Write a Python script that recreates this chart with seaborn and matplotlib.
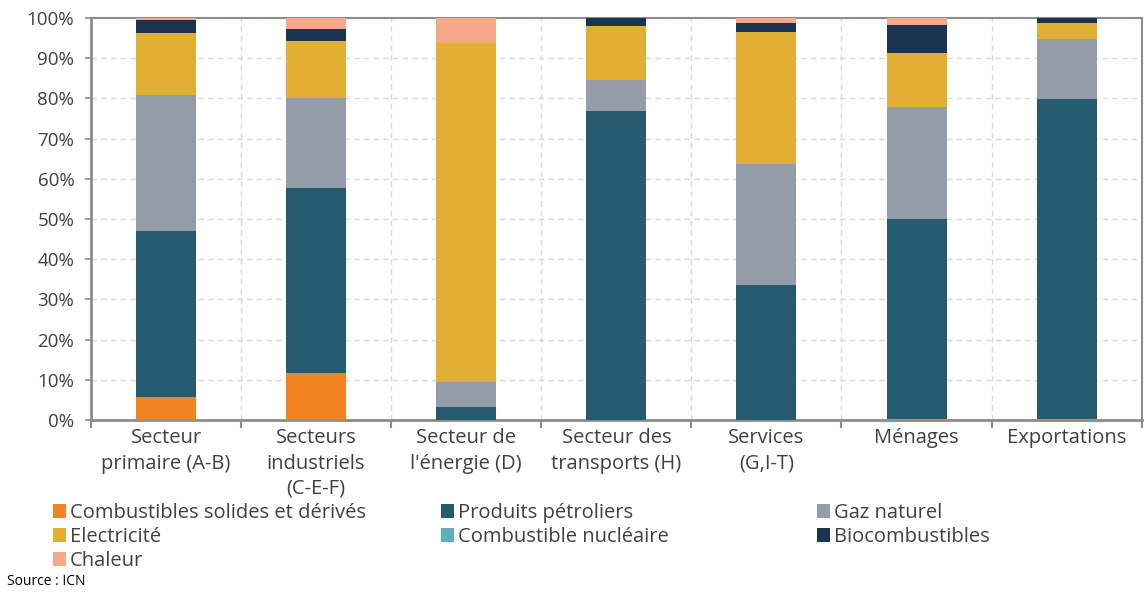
import pandas as pd
import matplotlib.pyplot as plt
import seaborn as sns
from matplotlib.patches import Patch
from matplotlib.ticker import FixedLocator, PercentFormatter

# =============================
# Data (shares in %)
# =============================
CATEGORIES = ["primaire", "industriels", "energie", "transports", "services", "menages", "exportations"]
TICK_LABELS = [
    "Secteur\nprimaire (A-B)",
    "Secteurs\nindustriels\n(C-E-F)",
    "Secteur de\nl'énergie (D)",
    "Secteur des\ntransports (H)",
    "Services\n(G,I-T)",
    "Ménages",
    "Exportations",
]

solides = [5.8, 11.7, 0.1, 0.1, 0.1, 0.2, 0.2]
petrole = [41.2, 46.1, 3.1, 76.9, 33.6, 49.8, 79.6]
gaz = [33.8, 22.2, 6.3, 7.6, 30.0, 27.9, 14.9]
electricite = [15.4, 14.4, 84.2, 13.5, 32.9, 13.3, 4.1]
nucleaire = [0.0, 0.0, 0.0, 0.0, 0.0, 0.0, 0.0]
biocombustibles = [3.3, 2.9, 0.1, 1.9, 2.2, 7.0, 1.2]
chaleur = [0.5, 2.7, 6.2, 0.0, 1.2, 1.8, 0.0]

SERIES = [
    ("Combustibles solides et dérivés", solides, "#F28322"),
    ("Produits pétroliers", petrole, "#265B6F"),
    ("Gaz naturel", gaz, "#939CA7"),
    ("Electricité", electricite, "#E1AF33"),
    ("Combustible nucléaire", nucleaire, "#5FAEBD"),
    ("Biocombustibles", biocombustibles, "#1B3551"),
    ("Chaleur", chaleur, "#F5A98A"),
]

df = pd.DataFrame({name: vals for name, vals, _ in SERIES}, index=CATEGORIES)
cum = df.cumsum(axis=1)

# =============================
# Style
# =============================
sns.set_theme(style="white")
plt.rcParams["font.family"] = ["Open Sans", "DejaVu Sans"]
GREY = "#8c8c8c"
TXT = "#404040"

fig = plt.figure(figsize=(11.44, 5.92), dpi=100)
ax = fig.add_axes([0.0795, 0.2905, 0.9185, 0.679])

# stacked bars: draw cumulative totals from top layer down
for name, _, color in reversed(SERIES):
    sns.barplot(x=CATEGORIES, y=cum[name].values, color=color, saturation=1,
                width=0.4, ax=ax, linewidth=0, zorder=3)

ax.set_xlim(-0.5, len(CATEGORIES) - 0.5)
ax.set_ylim(0, 100)
ax.yaxis.set_major_locator(FixedLocator(range(0, 101, 10)))
ax.yaxis.set_major_formatter(PercentFormatter(decimals=0))

# x: tick marks at category boundaries, labels at centres
ax.xaxis.set_major_locator(FixedLocator([i - 0.5 for i in range(len(CATEGORIES) + 1)]))
ax.xaxis.set_minor_locator(FixedLocator(range(len(CATEGORIES))))
ax.set_xticklabels([""] * (len(CATEGORIES) + 1))
ax.set_xticklabels(TICK_LABELS, minor=True, linespacing=1.35)
ax.tick_params(axis="x", which="major", length=6, width=1.5, color=GREY, direction="out", bottom=True)
ax.tick_params(axis="x", which="minor", length=0, pad=6, labelsize=14.5, labelcolor=TXT)
ax.tick_params(axis="y", length=4, width=1.2, color=GREY, left=True, pad=8, labelsize=13.5, labelcolor=TXT)
ax.set_xlabel("")
ax.set_ylabel("")

ax.grid(True, which="major", axis="both", linestyle=(0, (4, 3)), color="#d9d9d9", linewidth=1, zorder=0)
ax.set_axisbelow(True)
for side in ["left", "bottom", "top", "right"]:
    ax.spines[side].set_color(GREY)
    ax.spines[side].set_linewidth(2 if side in ("left", "bottom") else 1.5)

# =============================
# Legend: three columns, row-major order
# =============================
handles = [Patch(facecolor=c, edgecolor="none", label=n) for n, _, c in SERIES]
columns = [(handles[0::3], 0.0376), (handles[1::3], 0.377), (handles[2::3], 0.705)]
for hs, x0 in columns:
    leg = fig.legend(handles=hs, loc="upper left", bbox_to_anchor=(x0, 0.167), frameon=False,
                     fontsize=14.5, handlelength=0.65, handleheight=0.65, handletextpad=0.2,
                     labelspacing=0.2, borderpad=0, labelcolor=TXT)

fig.text(0.006, 0.012, "Source : ICN", fontsize=10, color="black")

plt.savefig("out.png", dpi=100)
